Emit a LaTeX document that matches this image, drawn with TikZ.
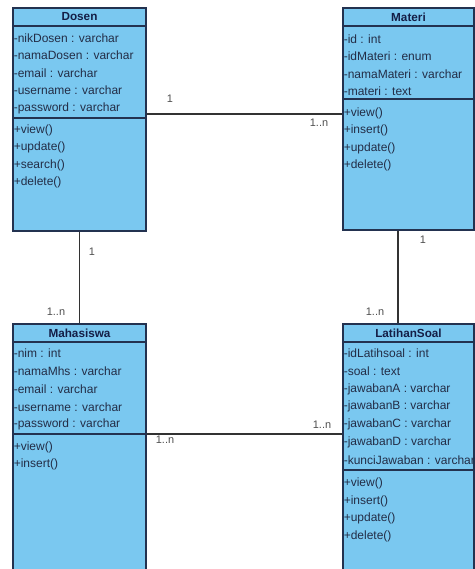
\documentclass[tikz,border=0pt]{standalone}
\usepackage{fontspec}
\setmainfont{Liberation Sans}
\usetikzlibrary{fit,calc}
\definecolor{boxfill}{RGB}{122,200,240}
\definecolor{boxline}{RGB}{35,50,80}
\definecolor{txt}{RGB}{35,45,70}
\definecolor{ttl}{RGB}{20,30,70}
\definecolor{conn}{RGB}{50,50,50}
\definecolor{lbl}{RGB}{80,80,80}
\tikzset{
  classbox/.style={draw=boxline, fill=boxfill, line width=0.9pt, inner sep=0pt},
  sepline/.style={draw=boxline, line width=0.9pt},
  ttltext/.style={font=\fontsize{8.8}{10}\selectfont\bfseries, text=ttl, inner sep=0pt},
  member/.style={font=\fontsize{9}{10}\selectfont, text=txt, anchor=west, inner sep=0pt},
  assoc/.style={draw=conn, line width=0.8pt},
  mult/.style={font=\fontsize{8.2}{10}\selectfont, text=lbl, inner sep=0pt},
}
\begin{document}
\begin{tikzpicture}[x=0.75pt,y=-0.75pt]
\useasboundingbox (0,0) rectangle (475,569);
\clip (0,0) rectangle (475,569);
\fill[white] (0,0) rectangle (475,569);

% ---- Dosen ----
\node[classbox, fit={(13,8) (146,231)}] (dosen) {};
\draw[sepline] (dosen.west |- 0,26) -- (dosen.east |- 0,26);
\draw[sepline] (dosen.west |- 0,118) -- (dosen.east |- 0,118);
\node[ttltext] (dosenT) at (79.5,17) {Dosen};
\node[member] (d1) at (13.5,38) {-nikDosen : varchar};
\node[member] (d2) at (13.5,55.5) {-namaDosen : varchar};
\node[member] (d3) at (13.5,73) {-email : varchar};
\node[member] (d4) at (13.5,90.5) {-username : varchar};
\node[member] (d5) at (13.5,108) {-password : varchar};
\node[member] (d6) at (13.5,130) {+view()};
\node[member] (d7) at (13.5,147.5) {+update()};
\node[member] (d8) at (13.5,165) {+search()};
\node[member] (d9) at (13.5,182.5) {+delete()};

% ---- Materi ----
\node[classbox, fit={(343,8) (474,230)}] (materi) {};
\draw[sepline] (materi.west |- 0,26) -- (materi.east |- 0,26);
\draw[sepline] (materi.west |- 0,99) -- (materi.east |- 0,99);
\node[ttltext] (materiT) at (408.5,17) {Materi};
\node[member] (m1) at (343.5,39) {-id : int};
\node[member] (m2) at (343.5,56.5) {-idMateri : enum};
\node[member] (m3) at (343.5,74) {-namaMateri : varchar};
\node[member] (m4) at (343.5,91) {-materi : text};
\node[member] (m5) at (343.5,113) {+view()};
\node[member] (m6) at (343.5,130.5) {+insert()};
\node[member] (m7) at (343.5,148) {+update()};
\node[member] (m8) at (343.5,165.5) {+delete()};

% ---- Mahasiswa ----
\node[classbox, fit={(13,324) (146,590)}] (mhs) {};
\draw[sepline] (mhs.west |- 0,342) -- (mhs.east |- 0,342);
\draw[sepline] (mhs.west |- 0,434) -- (mhs.east |- 0,434);
\node[ttltext] (mhsT) at (79.5,333) {Mahasiswa};
\node[member] (h1) at (13.5,353) {-nim : int};
\node[member] (h2) at (13.5,371) {-namaMhs : varchar};
\node[member] (h3) at (13.5,389) {-email : varchar};
\node[member] (h4) at (13.5,407) {-username : varchar};
\node[member] (h5) at (13.5,424) {-password : varchar};
\node[member] (h6) at (13.5,447) {+view()};
\node[member] (h7) at (13.5,464.5) {+insert()};

% ---- LatihanSoal ----
\node[classbox, fit={(343,324) (474,590)}] (soal) {};
\draw[sepline] (soal.west |- 0,342) -- (soal.east |- 0,342);
\draw[sepline] (soal.west |- 0,470) -- (soal.east |- 0,470);
\node[ttltext] (soalT) at (408.5,333) {LatihanSoal};
\node[member] (s1) at (343.5,353) {-idLatihsoal : int};
\node[member] (s2) at (343.5,371) {-soal : text};
\node[member] (s3) at (343.5,389) {-jawabanA : varchar};
\node[member] (s4) at (343.5,406.5) {-jawabanB : varchar};
\node[member] (s5) at (343.5,424) {-jawabanC : varchar};
\node[member] (s6) at (343.5,442) {-jawabanD : varchar};
\node[member] (s7) at (343.5,460) {-kunciJawaban : varchar};
\node[member] (s8) at (343.5,483) {+view()};
\node[member] (s9) at (343.5,501) {+insert()};
\node[member] (s10) at (343.5,518.5) {+update()};
\node[member] (s11) at (343.5,536.5) {+delete()};

% ---- associations ----
\coordinate (dmA) at (dosen.east |- 0,114);
\coordinate (dmB) at (materi.west |- 0,114);
\draw[assoc] (dmA) -- (dmB);
\node[mult] (dm1) at (170,99) {1};
\node[mult] (dm2) at (319,123) {1..n};

\draw[assoc] (dosen.south) -- (mhs.north);
\node[mult] (dh1) at (92,252) {1};
\node[mult] (dh2) at (56,312) {1..n};

\coordinate (msA) at (materi.south -| 398,0);
\coordinate (msB) at (soal.north -| 398,0);
\draw[assoc] (msA) -- (msB);
\node[mult] (ms1) at (423,240) {1};
\node[mult] (ms2) at (375,312) {1..n};

\coordinate (hsA) at (mhs.east |- 0,434);
\coordinate (hsB) at (soal.west |- 0,434);
\draw[assoc] (hsA) -- (hsB);
\node[mult] (hs1) at (165,440) {1..n};
\node[mult] (hs2) at (322,425) {1..n};
\end{tikzpicture}
\end{document}
